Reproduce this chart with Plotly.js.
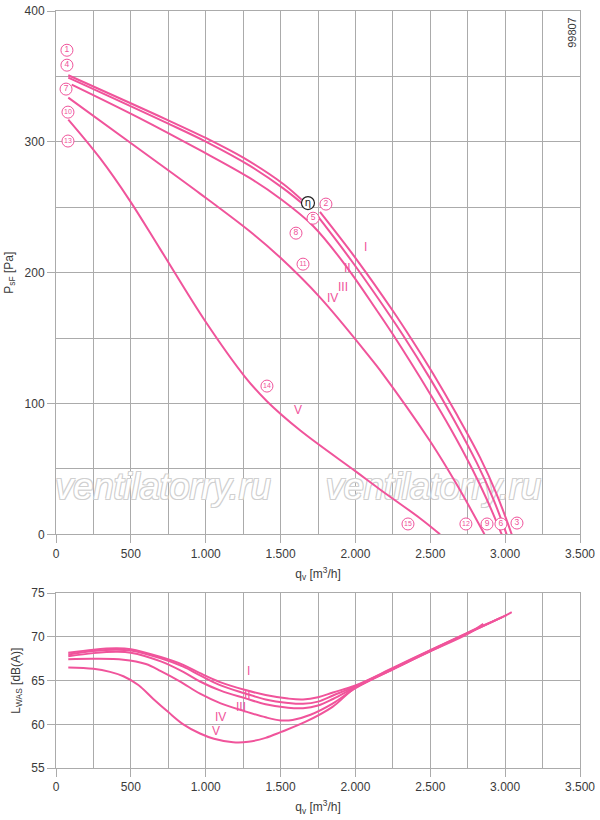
<!DOCTYPE html>
<html>
<head>
<meta charset="utf-8">
<script src="https://cdn.plot.ly/plotly-3.0.1.min.js"></script>
<style>html,body{margin:0;padding:0;background:#fff;}#chart{width:600px;height:820px;}</style>
</head>
<body>
<div id="chart"></div>
<script>
// ---------- Pressure curves (top chart) ----------
const qI   = [82,739,1007,1251,1518,1641,null,1763,2008,2253,2376,2520,2676,2832,2943,3044];
const pI   = [350.9,317.0,302.6,287.9,267.8,255.7,null,246.4,210.0,170.3,148.9,122.5,91.7,58.8,30.8,0];
const qII  = [82,739,1007,1296,1518,1663,null,1752,1975,2231,2320,2498,2654,2810,2921,3010];
const pII  = [349.1,314.5,299.8,281.6,264.4,251.1,null,242.6,208.9,167.1,151.8,119.2,88.4,54.8,26.9,0];
const qIII = [105,561,962,1296,1496,1719,1942,2142,2253,2498,2632,2776,2877,2977];
const pIII = [343.8,318.0,293.6,272.2,256.7,235.5,204.3,171.3,152.3,107.5,81.5,50.9,26.8,0];
const qIV  = [82,561,962,1296,1496,1763,2097,2164,2498,2676,2862];
const pIV  = [333.8,293.9,260.4,231.4,211.7,181.1,135.3,125.5,71.3,38.2,0];
const qV   = [82,294,494,695,995,1262,1407,1630,2004,2164,2431,2565];
const pV   = [317.0,287.5,254.9,218.2,163.2,120.4,101.9,79.5,47.9,34.3,12.3,0];

// ---------- Sound power curves (bottom chart) ----------
const sqI   = [82,250,400,500,700,850,962,1100,1260,1400,1550,1650,1750,1850,2000,2250,2500,2750,3000,3044];
const sLI   = [68.2,68.55,68.7,68.6,67.7,66.8,65.85,64.8,63.95,63.35,62.95,62.85,63.1,63.65,64.45,66.45,68.5,70.5,72.45,72.85];
const sqII  = [82,250,400,500,700,850,962,1100,1260,1400,1550,1650,1750,1850,2000,2250,2500,2750,3010];
const sLII  = [68.0,68.4,68.55,68.45,67.55,66.6,65.6,64.45,63.55,62.85,62.45,62.35,62.6,63.3,64.35,66.4,68.45,70.45,72.5];
const sqIII = [82,250,400,500,700,850,962,1100,1260,1400,1550,1650,1750,1850,2000,2250,2500,2750,2977];
const sLIII = [67.8,68.15,68.3,68.2,67.2,66.0,64.9,63.85,63.0,62.3,61.9,61.85,62.15,62.9,64.25,66.35,68.4,70.4,72.25];
const sqIV  = [82,250,450,600,700,830,962,1100,1260,1400,1500,1580,1700,1850,2000,2250,2500,2750,2854];
const sLIV  = [67.45,67.5,67.4,66.9,66.1,64.9,63.5,62.4,61.5,60.8,60.45,60.5,61.1,62.4,64.15,66.3,68.35,70.35,71.5];
const sqV   = [82,250,361,450,550,650,750,850,962,1055,1183,1285,1400,1500,1668,1847,2000,2250,2500,2565];
const sLV   = [66.5,66.35,66.0,65.5,64.5,62.9,61.4,60.0,58.95,58.35,57.95,58.0,58.45,59.1,60.3,62.0,64.2,66.3,68.4,68.9];

// ---------- Labels ----------
const circNum = ['1','4','7','10','13','2','5','8','11','14','3','6','9','12','15'];
const circQ   = [73,73,67,80,80,1803,1717,1603,1650,1409,3079,2972,2879,2738,2351];
const circP   = [370,358.6,340.3,322.7,300.6,252.4,241.6,230.2,206.5,113.3,8.6,7.9,7.9,7.9,7.9];
const etaQ = [1683], etaP = [253.2];
const romanText = ['I','II','III','IV','V'];
const romanQTop = [2070,1950,1917,1850,1616];
const romanPTop = [219.5,203.4,188.8,180.5,94.9];
const romanQBot = [1289,1276,1236,1102,1069];
const romanLBot = [66.1,63.35,62.0,60.85,59.2];
const wmText = ['ventilatorry.ru','ventilatorry.ru'];
const wmQ = [715,2521], wmP = [33.8,33.8];

const PINK = '#f0549b';
const GRID = '#ababab';
const TXT = '#3a3a3a';

const traces = [];
traces.push({x:wmQ, y:wmP, mode:'text', text:wmText, xaxis:'x', yaxis:'y', hoverinfo:'skip',
  textfont:{family:'Liberation Sans, Arial, sans-serif', size:36, style:'italic', color:'#ffffff',
    shadow:'-1px -1px 0 #d0d0d0, 1px -1px 0 #d0d0d0, -1px 1px 0 #d0d0d0, 1px 1px 0 #d0d0d0'}});

const topCurves = [[qI,pI],[qII,pII],[qIII,pIII],[qIV,pIV],[qV,pV]];
topCurves.forEach(([x,y]) => traces.push({x, y, mode:'lines', xaxis:'x', yaxis:'y', connectgaps:false,
  line:{color:PINK, width:2, shape:'spline', smoothing:1}, hoverinfo:'skip'}));
const botCurves = [[sqI,sLI],[sqII,sLII],[sqIII,sLIII],[sqIV,sLIV],[sqV,sLV]];
botCurves.forEach(([x,y]) => traces.push({x, y, mode:'lines', xaxis:'x2', yaxis:'y2',
  line:{color:PINK, width:2, shape:'spline', smoothing:1}, hoverinfo:'skip'}));

traces.push({x:circQ, y:circP, mode:'markers+text', text:circNum, textposition:'middle center', xaxis:'x', yaxis:'y',
  marker:{symbol:'circle', size:12, color:'#ffffff', line:{color:PINK, width:1}},
  textfont:{family:'Liberation Sans, Arial, sans-serif', size:circNum.map(s => s.length > 1 ? 7 : 8.5), color:PINK}, hoverinfo:'skip', cliponaxis:false});
traces.push({x:etaQ, y:etaP, mode:'markers+text', text:['η'], textposition:'middle center', xaxis:'x', yaxis:'y',
  marker:{symbol:'circle', size:13, color:'#ffffff', line:{color:'#222', width:1.2}},
  textfont:{family:'DejaVu Sans, sans-serif', size:10, color:'#222'}, hoverinfo:'skip'});

const annotations = [];
romanText.forEach((t,i) => {
  annotations.push({x:romanQTop[i], y:romanPTop[i], xref:'x', yref:'y', text:t, showarrow:false,
    font:{family:'Liberation Sans, Arial, sans-serif', size:12, color:PINK}});
  annotations.push({x:romanQBot[i], y:romanLBot[i], xref:'x2', yref:'y2', text:t, showarrow:false,
    font:{family:'Liberation Sans, Arial, sans-serif', size:12, color:PINK}});
});
annotations.push({x:0.986, y:0.972, xref:'paper', yref:'paper', xanchor:'center', yanchor:'middle', text:'99807', textangle:-90, showarrow:false,
  font:{family:'Liberation Sans, Arial, sans-serif', size:11, color:TXT}});

const xBase = {range:[0,3500], dtick:500, tick0:0, separatethousands:true, showgrid:true, gridcolor:GRID, gridwidth:1,
  minor:{dtick:250, showgrid:true, gridcolor:GRID, gridwidth:1, ticks:''},
  ticks:'outside', ticklen:8, tickcolor:GRID, tickwidth:1, showline:true, mirror:true, linecolor:GRID, linewidth:1,
  zeroline:false, tickfont:{size:12, color:TXT},
  title:{text:'q<sub>v</sub> [m<sup>3</sup>/h]', font:{size:12, color:TXT}, standoff:9}};
const yBase = {showgrid:true, gridcolor:GRID, gridwidth:1, ticks:'outside', ticklen:8, tickcolor:GRID, tickwidth:1,
  showline:true, mirror:true, linecolor:GRID, linewidth:1, zeroline:false, tickfont:{size:12, color:TXT}};

const layout = {
  width:600, height:820, margin:{l:56, r:20, t:11, b:52},
  paper_bgcolor:'#ffffff', plot_bgcolor:'#ffffff', separators:',.', showlegend:false,
  font:{family:'Liberation Sans, Arial, sans-serif', size:12, color:TXT},
  xaxis:Object.assign({}, xBase, {domain:[0,1], anchor:'y'}),
  yaxis:Object.assign({}, yBase, {domain:[0.3087,1], anchor:'x', range:[0,400], dtick:100, tick0:0,
    minor:{dtick:50, showgrid:true, gridcolor:GRID, gridwidth:1, ticks:''},
    title:{text:'P<sub>sF</sub> [Pa]', font:{size:12, color:TXT}, standoff:8}}),
  xaxis2:Object.assign({}, xBase, {domain:[0,1], anchor:'y2'}),
  yaxis2:Object.assign({}, yBase, {domain:[0,0.2308], anchor:'x2', range:[55,75], dtick:5, tick0:55,
    title:{text:'L<sub>WAS</sub> [dB(A)]', font:{size:12, color:TXT}, standoff:8}}),
  annotations
};

Plotly.newPlot('chart', traces, layout, {displayModeBar:false, staticPlot:true});
</script>
</body>
</html>
